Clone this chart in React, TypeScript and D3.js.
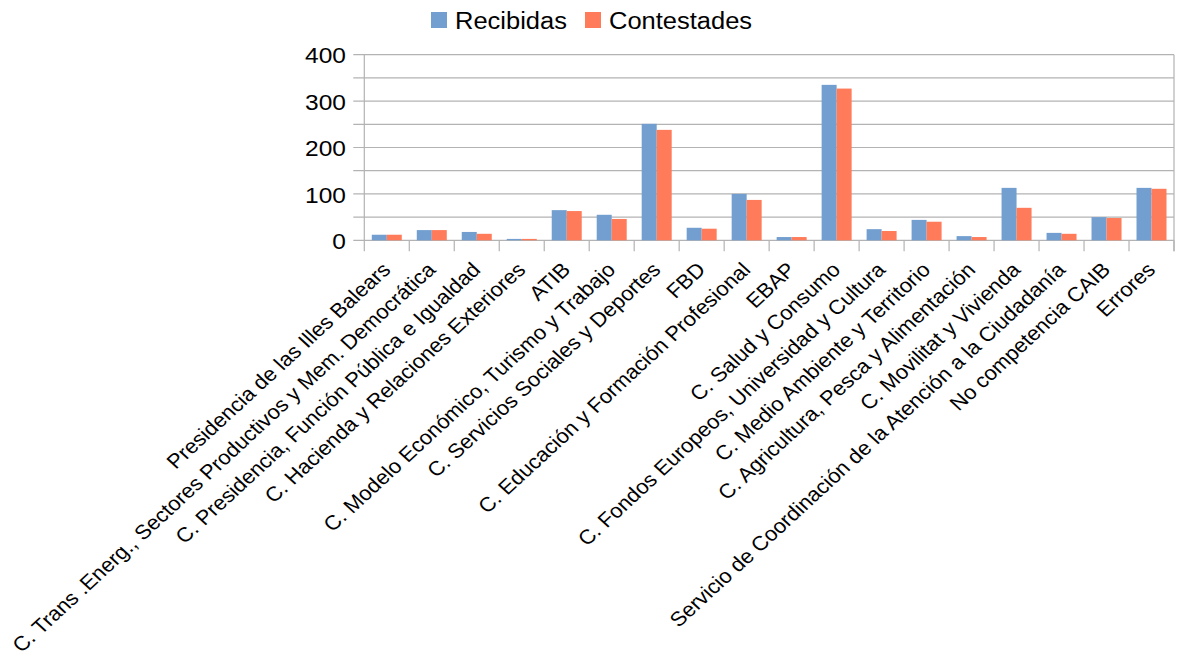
import React from "react";
import * as d3 from "d3";

const categories = [
  "Presidencia de las Illes Balears",
  "C. Trans .Energ., Sectores Productivos y Mem. Democrática",
  "C. Presidencia, Función Pública e Igualdad",
  "C. Hacienda y Relaciones Exteriores",
  "ATIB",
  "C. Modelo Económico, Turismo y Trabajo",
  "C. Servicios Sociales y Deportes",
  "FBD",
  "C. Educación y Formación Profesional",
  "EBAP",
  "C. Salud y Consumo",
  "C. Fondos Europeos, Universidad y Cultura",
  "C. Medio Ambiente y Territorio",
  "C. Agricultura, Pesca y Alimentación",
  "C. Movilitat y Vivienda",
  "Servicio de Coordinación de la Atención a la Ciudadanía",
  "No competencia CAIB",
  "Errores",
];

const recibidas = [12, 22, 18, 3, 65, 55, 251, 27, 100, 7, 335, 24, 44, 9, 113, 16, 50, 113];
const contestades = [12, 22, 14, 3, 63, 46, 238, 25, 87, 7, 327, 20, 40, 7, 70, 14, 48, 111];

const seriesNames = ["Recibidas", "Contestades"];
const seriesColors = ["#729fcf", "#ff7b59"];
const yTicks = [0, 100, 200, 300, 400];
const yMinor = [50, 150, 250, 350];

const W = 1182;
const H = 666;
const left = 364.3;
const right = 1174;
const top = 54.7;
const bottom = 240.3;
const font = "'Liberation Sans', Arial, sans-serif";
const vs = 0.921; // vertical squeeze of the text seen in the picture

export default function App() {
  const x0 = d3.scaleBand<string>().domain(categories).range([left, right]).padding(0);
  const x1 = d3
    .scaleBand<string>()
    .domain(seriesNames)
    .range([0, x0.bandwidth()])
    .paddingInner(0)
    .paddingOuter(0.5);
  const y = d3.scaleLinear().domain([0, 400]).range([bottom, top]);
  const data = [recibidas, contestades];
  const grid = "#b3b3b3";

  return (
    <svg
      width={W}
      height={H}
      style={{ position: "absolute", left: 0, top: 0, background: "#fff" }}
      fontFamily={font}
    >
      {/* gridlines */}
      {[...yMinor, ...yTicks].map((t) => (
        <line key={"g" + t} x1={left - 11} x2={right} y1={y(t)} y2={y(t)} stroke={grid} strokeWidth={1.2} />
      ))}
      {/* right border */}
      <line x1={right} x2={right} y1={top} y2={bottom + 11} stroke={grid} strokeWidth={1.2} />
      {/* left axis */}
      <line x1={left} x2={left} y1={top} y2={bottom + 11} stroke={grid} strokeWidth={1.2} />
      {/* x ticks */}
      {categories.map((c) => (
        <line
          key={"t" + c}
          x1={(x0(c) as number) + x0.bandwidth()}
          x2={(x0(c) as number) + x0.bandwidth()}
          y1={bottom}
          y2={bottom + 11}
          stroke={grid}
          strokeWidth={1.2}
        />
      ))}
      {/* bars */}
      {categories.map((c, i) => (
        <g key={"b" + c}>
          {seriesNames.map((s, k) => (
            <rect
              key={s}
              x={(x0(c) as number) + (x1(s) as number)}
              width={x1.bandwidth()}
              y={y(data[k][i])}
              height={bottom - y(data[k][i])}
              fill={seriesColors[k]}
            />
          ))}
        </g>
      ))}
      {/* y labels */}
      {yTicks.map((t) => (
        <text
          key={"yl" + t}
          x={0}
          y={0}
          transform={`translate(346 ${y(t) + 8.6}) scale(1 ${vs})`}
          textAnchor="end"
          fontSize={24.5}
          fill="#000"
        >
          {t}
        </text>
      ))}
      {/* x labels */}
      {categories.map((c) => {
        const cx = (x0(c) as number) + x0.bandwidth() / 2;
        const tx = cx + 5;
        const ty = 271;
        return (
          <text
            key={"xl" + c}
            x={0}
            y={0}
            textAnchor="end"
            fontSize={22}
            fill="#000"
            transform={`translate(${tx} ${ty}) scale(1 ${vs}) rotate(-45)`}
          >
            {c}
          </text>
        );
      })}
      {/* legend */}
      {seriesNames.map((s, k) => {
        const lx = [431, 585][k];
        return (
          <g key={"lg" + s}>
            <rect x={lx} y={12} width={16} height={16} fill={seriesColors[k]} />
            <text
              x={0}
              y={0}
              transform={`translate(${lx + 24} 29.3) scale(1 ${vs})`}
              fontSize={25.5}
              fill="#000"
            >
              {s}
            </text>
          </g>
        );
      })}
    </svg>
  );
}
